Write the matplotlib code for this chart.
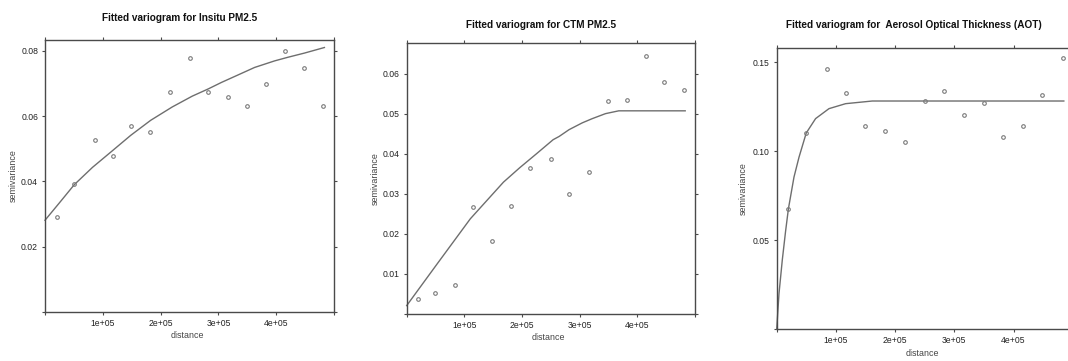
import matplotlib
matplotlib.use("Agg")
import matplotlib.pyplot as plt

plt.rcParams["font.family"] = ["Liberation Sans", "DejaVu Sans"]

# empirical semivariogram points (distance, semivariance)
insitu_dist = [2.1e4, 5.06e4, 8.62e4, 1.172e5, 1.494e5, 1.822e5, 2.155e5, 2.506e5,
               2.828e5, 3.161e5, 3.494e5, 3.816e5, 4.155e5, 4.477e5, 4.816e5]
insitu_gamma = [0.0291, 0.0391, 0.0527, 0.0477, 0.0571, 0.0552, 0.0674, 0.0778,
                0.0675, 0.0658, 0.0632, 0.0698, 0.0800, 0.0747, 0.0632]

ctm_dist = [1.9e4, 4.89e4, 8.45e4, 1.155e5, 1.483e5, 1.81e5, 2.144e5, 2.494e5,
            2.81e5, 3.155e5, 3.489e5, 3.816e5, 4.149e5, 4.471e5, 4.816e5]
ctm_gamma = [0.00367, 0.00517, 0.00733, 0.0266, 0.0182, 0.0270, 0.0364, 0.0387,
             0.0300, 0.0354, 0.0532, 0.0535, 0.0643, 0.0580, 0.0558]

aot_dist = [1.95e4, 4.99e4, 8.48e4, 1.168e5, 1.495e5, 1.821e5, 2.159e5, 2.508e5,
            2.823e5, 3.172e5, 3.504e5, 3.830e5, 4.162e5, 4.488e5, 4.837e5]
aot_gamma = [0.0675, 0.1103, 0.1462, 0.1329, 0.1145, 0.1113, 0.1051, 0.1284,
             0.1340, 0.1205, 0.1273, 0.1081, 0.1143, 0.1316, 0.1526]

# fitted model lines
insitu_fit_x = [0, 2.48e4, 5.07e4, 8.22e4, 1.167e5, 1.483e5, 1.828e5, 2.202e5, 2.547e5,
                2.822e5, 3.052e5, 3.34e5, 3.627e5, 3.972e5, 4.2e5, 4.49e5, 4.834e5]
insitu_fit_y = [0.0281, 0.0334, 0.0390, 0.0443, 0.0494, 0.0541, 0.0587, 0.0628, 0.0661,
                0.0683, 0.0703, 0.0726, 0.0749, 0.0769, 0.0780, 0.0793, 0.0810]

ctm_fit_x = [0, 5.28e4, 1.103e5, 1.678e5, 1.96e5, 2.252e5, 2.54e5, 2.643e5, 2.816e5,
             3.045e5, 3.218e5, 3.448e5, 3.678e5, 4.83e5]
ctm_fit_y = [0.0021, 0.0125, 0.02375, 0.0329, 0.0365, 0.0400, 0.0435, 0.0443, 0.0460,
             0.0477, 0.04875, 0.0500, 0.0507, 0.0507]

aot_fit_x = [0, 3.9e3, 9.5e3, 1.5e4, 1.98e4, 2.92e4, 3.77e4, 4.99e4, 6.57e4, 8.83e4,
             1.164e5, 1.615e5, 4.85e5]
aot_fit_y = [0.0, 0.020, 0.039, 0.055, 0.0677, 0.0855, 0.0967, 0.1103, 0.1184, 0.1240,
             0.1268, 0.1283, 0.1283]

panels = [
    dict(title="Fitted variogram for Insitu PM2.5", d=insitu_dist, g=insitu_gamma,
         fx=insitu_fit_x, fy=insitu_fit_y, ylim=0.0833,
         yticks=[0, 0.02, 0.04, 0.06, 0.08], ylabels=["", "0.02", "0.04", "0.06", "0.08"],
         rect=[45, 40, 334, 312], tpos=(180, 18), xl_y=335, yl_x=13),
    dict(title="Fitted variogram for CTM PM2.5", d=ctm_dist, g=ctm_gamma,
         fx=ctm_fit_x, fy=ctm_fit_y, ylim=0.0677,
         yticks=[0, 0.01, 0.02, 0.03, 0.04, 0.05, 0.06],
         ylabels=["", "0.01", "0.02", "0.03", "0.04", "0.05", "0.06"],
         rect=[406.7, 42.7, 695, 314], tpos=(541, 25), xl_y=338, yl_x=375),
    dict(title="Fitted variogram for  Aerosol Optical Thickness (AOT)", d=aot_dist, g=aot_gamma,
         fx=aot_fit_x, fy=aot_fit_y, ylim=0.1583,
         yticks=[0, 0.05, 0.10, 0.15], ylabels=["", "0.05", "0.10", "0.15"],
         rect=[776.7, 47.7, 1072.7, 329], tpos=(914, 25), xl_y=354, yl_x=743),
]

W, H = 1068, 361
fig = plt.figure(figsize=(W / 100, H / 100), dpi=100)

xticks = [0, 1e5, 2e5, 3e5, 4e5, 5e5]
xlabels = ["", "1e+05", "2e+05", "3e+05", "4e+05", ""]
box = "#4a4a4a"

for p in panels:
    l, t, r, b = p["rect"]
    ax = fig.add_axes([l / W, 1 - b / H, (r - l) / W, (b - t) / H])
    ax.plot(p["fx"], p["fy"], color="#6e6e6e", lw=1.0, clip_on=False)
    ax.plot(p["d"], p["g"], ls="none", marker="o", ms=2.6, mfc="none",
            mec="#7a7a7a", mew=0.8)
    ax.set_xlim(0, 5.0e5)
    ax.set_ylim(0, p["ylim"])
    ax.set_xticks(xticks)
    ax.set_xticklabels(xlabels)
    ax.set_yticks(p["yticks"])
    ax.set_yticklabels(p["ylabels"])
    ax.tick_params(direction="out", length=2.5, width=0.8, color=box, labelsize=6.2,
                   labelcolor="#222222", pad=2.5, top=True, right=True)
    for s in ax.spines.values():
        s.set_color(box)
        s.set_linewidth(1.0)
    cx = (l + r) / 2
    fig.text(p["tpos"][0] / W, 1 - p["tpos"][1] / H, p["title"], ha="center", va="center",
             fontsize=7.2, fontweight="bold", color="#111111")
    fig.text((cx - 2) / W, 1 - p["xl_y"] / H, "distance", ha="center", va="center",
             fontsize=6.4, color="#444444")
    fig.text(p["yl_x"] / W, 1 - (t + b) / 2 / H, "semivariance", ha="center", va="center",
             rotation=90, fontsize=6.4, color="#444444")

fig.savefig("out.png", dpi=100)
